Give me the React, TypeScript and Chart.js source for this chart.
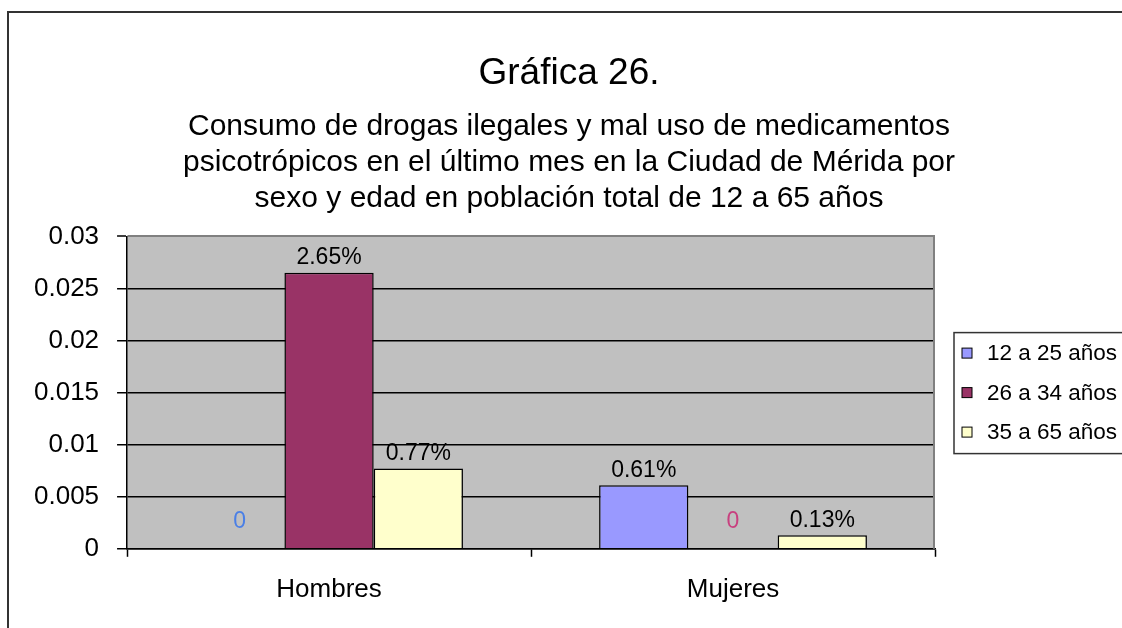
import React, { useEffect, useRef } from "react";
import { Chart, registerables } from "chart.js";

Chart.register(...registerables);

const categories = ["Hombres", "Mujeres"];
const seriesLabels = ["12 a 25 años", "26 a 34 años", "35 a 65 años"];
const serie12a25 = [0, 0.0061];
const serie26a34 = [0.0265, 0];
const serie35a65 = [0.0077, 0.0013];
const seriesColors = ["#9999FF", "#993366", "#FFFFCC"];
const zeroLabelColors = ["#4A7FE6", "#C8407F"];
const titleText = "Gráfica 26.";
const subtitleLines = [
  "Consumo de drogas ilegales y mal uso de medicamentos",
  "psicotrópicos en el último mes en la Ciudad de Mérida por",
  "sexo y edad en población total de 12 a 65 años",
];

const FONT = "'Liberation Sans', Arial, sans-serif";

const plotBgPlugin = {
  id: "plotBg",
  beforeDraw(chart: any) {
    const { ctx, chartArea: ca } = chart;
    ctx.save();
    ctx.fillStyle = "#C0C0C0";
    ctx.fillRect(ca.left, ca.top, ca.right - ca.left, ca.bottom - ca.top);
    ctx.restore();
  },
  beforeDatasetsDraw(chart: any) {
    const { ctx, chartArea: ca } = chart;
    ctx.save();
    ctx.strokeStyle = "#808080";
    ctx.lineWidth = 2;
    ctx.beginPath();
    ctx.moveTo(ca.right - 1, ca.top);
    ctx.lineTo(ca.right - 1, ca.bottom);
    ctx.stroke();
    ctx.restore();
  },
};

const dataLabelPlugin = {
  id: "dataLabels",
  afterDatasetsDraw(chart: any) {
    const { ctx } = chart;
    ctx.save();
    ctx.font = `23px ${FONT}`;
    ctx.textAlign = "center";
    ctx.textBaseline = "middle";
    chart.data.datasets.forEach((ds: any, di: number) => {
      const meta = chart.getDatasetMeta(di);
      meta.data.forEach((bar: any, i: number) => {
        const v = ds.data[i];
        if (v === 0) {
          ctx.fillStyle = zeroLabelColors[di] || "#000";
          ctx.fillText("0", bar.x, bar.base - 27);
        } else {
          ctx.fillStyle = "#000";
          ctx.fillText((v * 100).toFixed(2) + "%", bar.x, bar.y - 15);
        }
      });
    });
    ctx.restore();
  },
};

const legendPlugin = {
  id: "boxLegend",
  afterDraw(chart: any) {
    const { ctx, chartArea: ca } = chart;
    const left = ca.right + 19;
    const cy = (ca.top + ca.bottom) / 2;
    ctx.save();
    ctx.fillStyle = "#FFFFFF";
    ctx.fillRect(left, cy - 60, 300, 121);
    ctx.strokeStyle = "#333333";
    ctx.lineWidth = 1.5;
    ctx.strokeRect(left, cy - 60, 300, 121);
    ctx.font = `22.5px ${FONT}`;
    ctx.textBaseline = "middle";
    ctx.textAlign = "left";
    chart.data.datasets.forEach((ds: any, i: number) => {
      const y = cy + (i - 1) * 39.5;
      ctx.fillStyle = ds.backgroundColor;
      ctx.fillRect(left + 8, y - 5, 10, 10);
      ctx.strokeStyle = "#000";
      ctx.lineWidth = 1;
      ctx.strokeRect(left + 8, y - 5, 10, 10);
      ctx.fillStyle = "#000";
      ctx.fillText(ds.label, left + 33, y + 1);
    });
    ctx.restore();
  },
};

export default function App() {
  const canvasRef = useRef<HTMLCanvasElement | null>(null);

  useEffect(() => {
    if (!canvasRef.current) return;
    const seriesData = [serie12a25, serie26a34, serie35a65];
    const chart = new Chart(canvasRef.current, {
      type: "bar",
      data: {
        labels: categories,
        datasets: seriesLabels.map((label, i) => ({
          label,
          data: seriesData[i],
          backgroundColor: seriesColors[i],
          borderColor: "#000000",
          borderWidth: 1.5,
          categoryPercentage: 0.663,
          barPercentage: 1.0,
          yAxisID: "y",
        })),
      },
      options: {
        responsive: false,
        animation: false,
        maintainAspectRatio: false,
        layout: { padding: { left: 7, right: 0, top: 0, bottom: 6 } },
        plugins: {
          legend: { display: false },
          tooltip: { enabled: false },
          title: {
            display: true,
            text: titleText,
            color: "#000",
            font: { family: FONT, size: 37, weight: "normal", lineHeight: 1.2 },
            padding: { top: 39, bottom: 12 },
          },
          subtitle: {
            display: true,
            text: subtitleLines,
            color: "#000",
            font: { family: FONT, size: 30, weight: "normal", lineHeight: 1.2 },
            padding: { top: 0, bottom: 20 },
          },
        },
        scales: {
          x: {
            grid: {
              display: true,
              offset: true,
              drawOnChartArea: false,
              drawTicks: true,
              tickLength: 8,
              tickColor: "#000",
              tickWidth: 1.5,
            },
            border: { display: true, color: "#000", width: 1.5 },
            ticks: {
              color: "#000",
              font: { family: FONT, size: 26 },
              padding: 17,
            },
          },
          y: {
            min: 0,
            max: 0.03,
            ticks: {
              stepSize: 0.005,
              color: "#000",
              font: { family: FONT, size: 26 },
              padding: 18,
              callback: (v: any) => String(parseFloat(Number(v).toFixed(4))),
            },
            grid: {
              color: (c: any) => (c.index === 6 ? "#808080" : "#000000"),
              lineWidth: (c: any) => (c.index === 6 ? 2 : 1.5),
              tickLength: 10,
              tickColor: "#000",
              tickWidth: 1.5,
            },
            border: { display: true, color: "#000", width: 1.5 },
          },
          legendSpace: {
            type: "linear",
            position: "right",
            display: true,
            grid: { display: false, drawTicks: false },
            border: { display: false },
            ticks: { display: false },
            afterFit: (scale: any) => {
              scale.width = 187;
            },
          },
        },
      } as any,
      plugins: [plotBgPlugin, dataLabelPlugin, legendPlugin],
    });
    return () => chart.destroy();
  }, []);

  return (
    <div
      style={{
        position: "fixed",
        left: 0,
        top: 0,
        width: 1122,
        height: 628,
        overflow: "hidden",
        background: "#FFFFFF",
      }}
    >
      <div
        style={{
          position: "absolute",
          left: 7,
          top: 11,
          width: 1200,
          height: 700,
          borderTop: "2px solid #333",
          borderLeft: "2px solid #333",
        }}
      />
      <canvas
        ref={canvasRef}
        width={1113}
        height={615}
        style={{ position: "absolute", left: 9, top: 13, width: 1113, height: 615 }}
      />
    </div>
  );
}
